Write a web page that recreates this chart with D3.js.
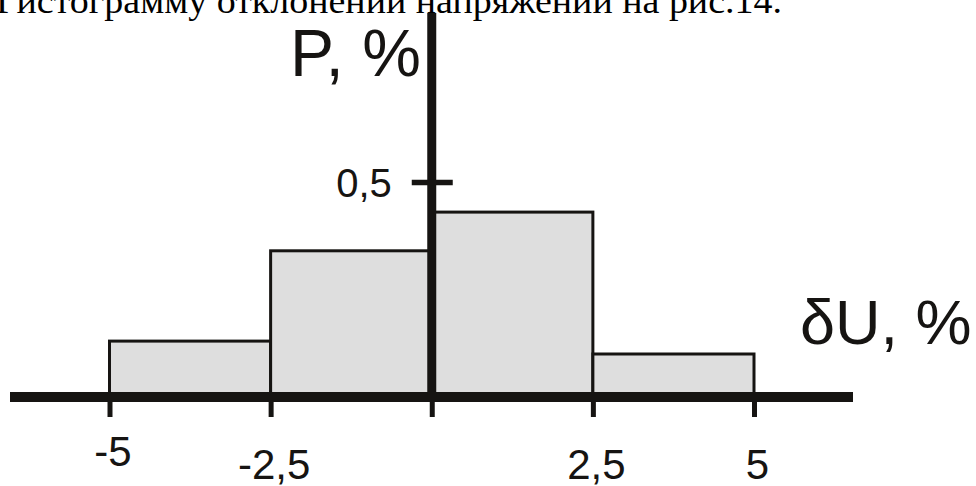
<!DOCTYPE html>
<html>
<head>
<meta charset="utf-8">
<script src="https://cdn.jsdelivr.net/npm/d3@7"></script>
<style>
  html, body { margin: 0; padding: 0; background: #fff; }
  svg { display: block; }
</style>
</head>
<body>
<svg id="chart" width="976" height="486"></svg>
<script>
// ---- data ----
const binStarts = [-5, -2.5, 0, 2.5];
const binEnds = [-2.5, 0, 2.5, 5];
const probs = [0.13, 0.34, 0.43, 0.10];
const xTickValues = [-5, -2.5, 0, 2.5, 5];
const xTickLabels = ["-5", "-2,5", "", "2,5", "5"];
const xLabelRaise = [13, 0, 0, 0, 0];
const yTickValues = [0.5];
const yTickLabels = ["0,5"];
const headerText = "Гистограмму отклонений напряжений на рис.14.";
const xTitle = "δU, %";
const yTitle = "P, %";

const svg = d3.select("#chart");
const ink = "#161412";

const x = d3.scaleLinear().domain([-5, 5]).range([109.5, 754]);
const y = d3.scaleLinear().domain([0, 0.5]).range([397, 182]);

// header (cut-off line of text)
svg.append("text")
  .attr("x", -4).attr("y", 13)
  .attr("font-family", "Liberation Serif, Times New Roman, serif")
  .attr("font-size", 35)
  .attr("textLength", 786)
  .attr("lengthAdjust", "spacingAndGlyphs")
  .attr("fill", "#000")
  .text(headerText);

// bars
const bins = binStarts.map((s, i) => ({ s, e: binEnds[i], p: probs[i] }));
svg.append("g").selectAll("rect").data(bins).join("rect")
  .attr("x", d => x(d.s))
  .attr("y", d => y(d.p))
  .attr("width", d => x(d.e) - x(d.s))
  .attr("height", d => y(0) - y(d.p))
  .attr("fill", "#dedede")
  .attr("stroke", ink)
  .attr("stroke-width", 3);

// x axis ticks + labels
const xAxis = d3.axisBottom(x)
  .tickValues(xTickValues)
  .tickSize(20)
  .tickPadding(26)
  .tickFormat((d, i) => xTickLabels[i]);
const gx = svg.append("g").attr("transform", `translate(0,${y(0)})`).call(xAxis);
gx.select(".domain").remove();
gx.selectAll(".tick line").attr("stroke", ink).attr("stroke-width", 5);
gx.selectAll(".tick text")
  .attr("font-family", "Liberation Sans, Arial, sans-serif")
  .attr("font-size", 42)
  .attr("fill", ink)
  .attr("dx", 3)
  .attr("y", (d, i) => 52 - xLabelRaise[i])
  .attr("dy", "0.71em");

// x axis line
svg.append("line")
  .attr("x1", 10).attr("x2", 853)
  .attr("y1", y(0)).attr("y2", y(0))
  .attr("stroke", ink).attr("stroke-width", 10);

// y axis line
svg.append("line")
  .attr("x1", x(0)).attr("x2", x(0))
  .attr("y1", 13).attr("y2", y(0))
  .attr("stroke", ink).attr("stroke-width", 9);

// y tick
const yAxis = d3.axisLeft(y)
  .tickValues(yTickValues)
  .tickSize(20)
  .tickPadding(22)
  .tickFormat((d, i) => yTickLabels[i]);
const gy = svg.append("g").attr("transform", `translate(${x(0)},0)`).call(yAxis);
gy.select(".domain").remove();
gy.selectAll(".tick line").attr("x2", -20).attr("x1", 21).attr("stroke", ink).attr("stroke-width", 5.5);
gy.selectAll(".tick text")
  .attr("font-family", "Liberation Sans, Arial, sans-serif")
  .attr("font-size", 40)
  .attr("fill", ink)
  .attr("x", -40)
  .attr("dy", "0.36em");

// axis titles
svg.append("text")
  .attr("x", 290).attr("y", 76)
  .attr("font-family", "Liberation Sans, Arial, sans-serif")
  .attr("font-size", 66)
  .attr("fill", ink)
  .text(yTitle);

svg.append("text")
  .attr("x", 800).attr("y", 344)
  .attr("font-family", "Liberation Sans, Arial, sans-serif")
  .attr("font-size", 63)
  .attr("fill", ink)
  .text(xTitle);
</script>
</body>
</html>
